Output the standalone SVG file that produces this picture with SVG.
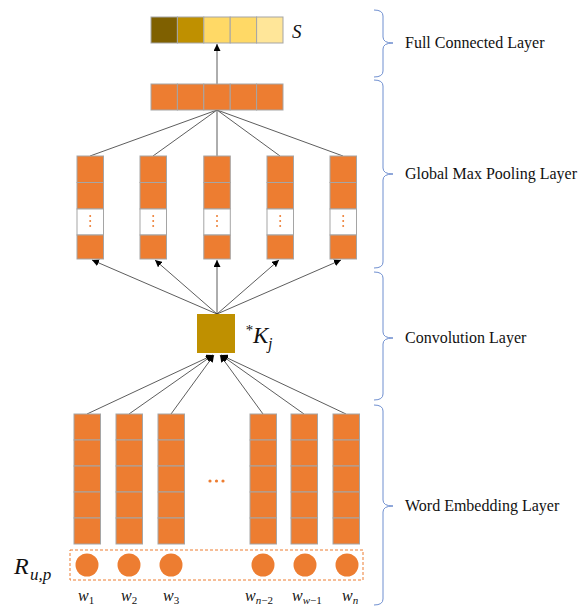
<svg xmlns="http://www.w3.org/2000/svg" width="586" height="608" viewBox="0 0 586 608">
<defs>
<marker id="ah" viewBox="0 0 10 10" refX="10" refY="5" markerWidth="7" markerHeight="7" markerUnits="userSpaceOnUse" orient="auto">
<path d="M0,0 L10,5 L0,10 Z" fill="#000"/>
</marker>
<style>
.cell{fill:#ED7D31;stroke:#A5A5A5;stroke-width:1}
.wcell{fill:#FFFFFF;stroke:#A5A5A5;stroke-width:1}
.dot{fill:#ED7D31}
.conn{stroke:#333;stroke-width:0.8;fill:none}
.arr{stroke:#333;stroke-width:0.8;fill:none;marker-end:url(#ah)}
.brace{stroke:#6F8FD0;stroke-width:1;fill:none}
.lbl{font-family:"Liberation Serif",serif;font-size:16px;fill:#111}
.math{font-family:"Liberation Serif",serif;font-style:italic;fill:#111}
</style>
</defs>
<rect width="586" height="608" fill="#FFFFFF"/>

<g id="connectors">
<line class="arr" x1="217" y1="84" x2="217" y2="44"/>
<line class="conn" x1="90" y1="156" x2="217" y2="110"/>
<line class="conn" x1="153" y1="156" x2="217" y2="110"/>
<line class="conn" x1="217" y1="156" x2="217" y2="110"/>
<line class="conn" x1="280" y1="156" x2="217" y2="110"/>
<line class="conn" x1="343" y1="156" x2="217" y2="110"/>
<line class="arr" x1="217" y1="314" x2="92" y2="260"/>
<line class="arr" x1="217" y1="314" x2="155" y2="260"/>
<line class="arr" x1="217" y1="314" x2="217" y2="260"/>
<line class="arr" x1="217" y1="314" x2="279" y2="260"/>
<line class="arr" x1="217" y1="314" x2="341" y2="260"/>
<line class="arr" x1="87" y1="414" x2="213" y2="355"/>
<line class="arr" x1="129" y1="414" x2="213" y2="355"/>
<line class="arr" x1="171" y1="414" x2="214" y2="355"/>
<line class="arr" x1="263" y1="414" x2="220" y2="355"/>
<line class="arr" x1="304" y1="414" x2="221" y2="355"/>
<line class="arr" x1="346" y1="414" x2="221" y2="355"/>
</g>

<g id="output-s">
<rect x="151" y="17" width="26.4" height="26" fill="#7F6000" stroke="#A5A5A5"/>
<rect x="177.4" y="17" width="26.4" height="26" fill="#BF9000" stroke="#A5A5A5"/>
<rect x="203.8" y="17" width="26.4" height="26" fill="#FFD966" stroke="#A5A5A5"/>
<rect x="230.2" y="17" width="26.4" height="26" fill="#FFD966" stroke="#A5A5A5"/>
<rect x="256.6" y="17" width="26.4" height="26" fill="#FFE699" stroke="#A5A5A5"/>
<text class="math" x="292" y="38" font-size="19">S</text>
</g>

<g id="pooled-vector">
<rect class="cell" x="151" y="84" width="26.4" height="26"/>
<rect class="cell" x="177.4" y="84" width="26.4" height="26"/>
<rect class="cell" x="203.8" y="84" width="26.4" height="26"/>
<rect class="cell" x="230.2" y="84" width="26.4" height="26"/>
<rect class="cell" x="256.6" y="84" width="26.4" height="26"/>
</g>

<g id="pool-col-1">
<rect class="cell" x="77" y="156" width="26.5" height="26.5"/>
<rect class="cell" x="77" y="182.5" width="26.5" height="26.5"/>
<rect class="wcell" x="77" y="209" width="26.5" height="26"/>
<rect class="cell" x="77" y="235" width="26.5" height="24"/>
<circle class="dot" cx="90.2" cy="216" r="1"/><circle class="dot" cx="90.2" cy="221" r="1"/><circle class="dot" cx="90.2" cy="226" r="1"/>
</g>
<g id="pool-col-2">
<rect class="cell" x="140" y="156" width="26.5" height="26.5"/>
<rect class="cell" x="140" y="182.5" width="26.5" height="26.5"/>
<rect class="wcell" x="140" y="209" width="26.5" height="26"/>
<rect class="cell" x="140" y="235" width="26.5" height="24"/>
<circle class="dot" cx="153.2" cy="216" r="1"/><circle class="dot" cx="153.2" cy="221" r="1"/><circle class="dot" cx="153.2" cy="226" r="1"/>
</g>
<g id="pool-col-3">
<rect class="cell" x="203.8" y="156" width="26.5" height="26.5"/>
<rect class="cell" x="203.8" y="182.5" width="26.5" height="26.5"/>
<rect class="wcell" x="203.8" y="209" width="26.5" height="26"/>
<rect class="cell" x="203.8" y="235" width="26.5" height="24"/>
<circle class="dot" cx="217" cy="216" r="1"/><circle class="dot" cx="217" cy="221" r="1"/><circle class="dot" cx="217" cy="226" r="1"/>
</g>
<g id="pool-col-4">
<rect class="cell" x="267" y="156" width="26.5" height="26.5"/>
<rect class="cell" x="267" y="182.5" width="26.5" height="26.5"/>
<rect class="wcell" x="267" y="209" width="26.5" height="26"/>
<rect class="cell" x="267" y="235" width="26.5" height="24"/>
<circle class="dot" cx="280.2" cy="216" r="1"/><circle class="dot" cx="280.2" cy="221" r="1"/><circle class="dot" cx="280.2" cy="226" r="1"/>
</g>
<g id="pool-col-5">
<rect class="cell" x="330" y="156" width="26.5" height="26.5"/>
<rect class="cell" x="330" y="182.5" width="26.5" height="26.5"/>
<rect class="wcell" x="330" y="209" width="26.5" height="26"/>
<rect class="cell" x="330" y="235" width="26.5" height="24"/>
<circle class="dot" cx="343.2" cy="216" r="1"/><circle class="dot" cx="343.2" cy="221" r="1"/><circle class="dot" cx="343.2" cy="226" r="1"/>
</g>

<g id="conv-kernel">
<rect x="197" y="314" width="38" height="39" fill="#BF9000"/>
<text class="math" x="245" y="335" font-size="15">*</text>
<text class="math" x="253" y="343" font-size="23">K</text>
<text class="math" x="268" y="349" font-size="16">j</text>
</g>

<g id="embed-col-1">
<rect class="cell" x="74" y="414" width="26.5" height="26"/><rect class="cell" x="74" y="440" width="26.5" height="26"/><rect class="cell" x="74" y="466" width="26.5" height="26"/><rect class="cell" x="74" y="492" width="26.5" height="26"/><rect class="cell" x="74" y="518" width="26.5" height="26"/>
</g>
<g id="embed-col-2">
<rect class="cell" x="116" y="414" width="26.5" height="26"/><rect class="cell" x="116" y="440" width="26.5" height="26"/><rect class="cell" x="116" y="466" width="26.5" height="26"/><rect class="cell" x="116" y="492" width="26.5" height="26"/><rect class="cell" x="116" y="518" width="26.5" height="26"/>
</g>
<g id="embed-col-3">
<rect class="cell" x="158" y="414" width="26.5" height="26"/><rect class="cell" x="158" y="440" width="26.5" height="26"/><rect class="cell" x="158" y="466" width="26.5" height="26"/><rect class="cell" x="158" y="492" width="26.5" height="26"/><rect class="cell" x="158" y="518" width="26.5" height="26"/>
</g>
<g id="embed-ellipsis">
<circle class="dot" cx="210" cy="481" r="1.6"/>
<circle class="dot" cx="216.5" cy="481" r="1.6"/>
<circle class="dot" cx="223" cy="481" r="1.6"/>
</g>
<g id="embed-col-4">
<rect class="cell" x="250" y="414" width="26.5" height="26"/><rect class="cell" x="250" y="440" width="26.5" height="26"/><rect class="cell" x="250" y="466" width="26.5" height="26"/><rect class="cell" x="250" y="492" width="26.5" height="26"/><rect class="cell" x="250" y="518" width="26.5" height="26"/>
</g>
<g id="embed-col-5">
<rect class="cell" x="291" y="414" width="26.5" height="26"/><rect class="cell" x="291" y="440" width="26.5" height="26"/><rect class="cell" x="291" y="466" width="26.5" height="26"/><rect class="cell" x="291" y="492" width="26.5" height="26"/><rect class="cell" x="291" y="518" width="26.5" height="26"/>
</g>
<g id="embed-col-6">
<rect class="cell" x="333" y="414" width="26.5" height="26"/><rect class="cell" x="333" y="440" width="26.5" height="26"/><rect class="cell" x="333" y="466" width="26.5" height="26"/><rect class="cell" x="333" y="492" width="26.5" height="26"/><rect class="cell" x="333" y="518" width="26.5" height="26"/>
</g>

<g id="review-words">
<rect x="70" y="550" width="293" height="30" fill="none" stroke="#ED7D31" stroke-width="1" stroke-dasharray="3,2"/>
<circle class="dot" cx="87" cy="565" r="11.5"/>
<circle class="dot" cx="129" cy="565" r="11.5"/>
<circle class="dot" cx="171" cy="565" r="11.5"/>
<circle class="dot" cx="263" cy="565" r="11.5"/>
<circle class="dot" cx="305" cy="565" r="11.5"/>
<circle class="dot" cx="347" cy="565" r="11.5"/>
<text class="math" x="14" y="574" font-size="24">R</text>
<text class="math" x="30" y="580" font-size="17">u,p</text>
</g>

<g id="word-labels" class="math" font-size="16">
<text x="78" y="601">w<tspan font-size="11" dy="3" font-style="normal">1</tspan></text>
<text x="121" y="601">w<tspan font-size="11" dy="3" font-style="normal">2</tspan></text>
<text x="163" y="601">w<tspan font-size="11" dy="3" font-style="normal">3</tspan></text>
<text x="245" y="601">w<tspan font-size="11" dy="3">n</tspan><tspan font-size="11" font-style="normal">−2</tspan></text>
<text x="292" y="601">w<tspan font-size="11" dy="3">w</tspan><tspan font-size="11" font-style="normal">−1</tspan></text>
<text x="342" y="601">w<tspan font-size="11" dy="3">n</tspan></text>
</g>

<g id="layer-full-connected">
<path class="brace" d="M374,10 Q383,10 383,16 L383,37 Q383,43 393,43 Q383,43 383,49 L383,71 Q383,77 374,77"/>
<text class="lbl" x="405" y="48">Full Connected Layer</text>
</g>
<g id="layer-global-max-pooling">
<path class="brace" d="M374,80 Q383,80 383,86 L383,168 Q383,174 393,174 Q383,174 383,180 L383,262 Q383,268 374,268"/>
<text class="lbl" x="405" y="179">Global Max Pooling Layer</text>
</g>
<g id="layer-convolution">
<path class="brace" d="M374,272 Q383,272 383,278 L383,332 Q383,338 393,338 Q383,338 383,344 L383,394 Q383,400 374,400"/>
<text class="lbl" x="405" y="343">Convolution Layer</text>
</g>
<g id="layer-word-embedding">
<path class="brace" d="M374,405 Q383,405 383,411 L383,500 Q383,506 393,506 Q383,506 383,512 L383,599 Q383,605 374,605"/>
<text class="lbl" x="405" y="511">Word Embedding Layer</text>
</g>
</svg>
